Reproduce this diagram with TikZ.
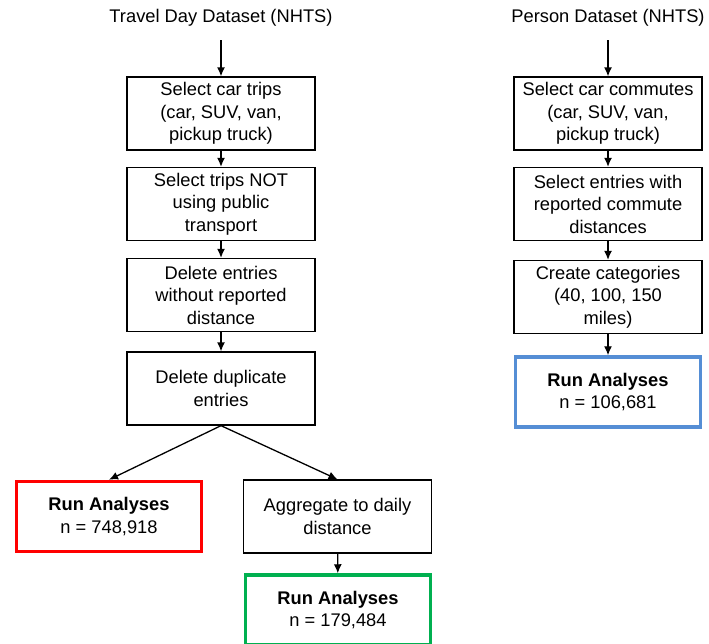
\documentclass[tikz,border=0pt]{standalone}
\usepackage{fontspec}
\setmainfont{Liberation Sans}
\usetikzlibrary{arrows.meta}
\tikzset{>={Latex[length=9pt,width=8pt]}}

\begin{document}
\begin{tikzpicture}[x=1pt,y=-1pt,
    txt/.style={font=\fontsize{18.3}{22.5}\selectfont},
    stepbox/.style={txt,draw,line width=1.3pt,minimum width=188pt,minimum height=73pt,align=center,inner sep=2pt},
    resbox/.style={stepbox,line width=3.5pt,minimum width=185pt,minimum height=70pt}]
    \useasboundingbox (0,0) rectangle (709,643);
    \clip (0,0) rectangle (709,643);

    % Travel day column
    \node[txt] (tday) at (221,18) {Travel Day Dataset (NHTS)};
    \node[stepbox] (cars) at (221,113.5) {Select car trips\\(car, SUV, van,\\pickup truck)};
    \node[stepbox] (npub) at (221,204) {Select trips NOT\\using public\\transport};
    \node[stepbox] (ndist) at (221,295) {Delete entries\\without reported\\distance};
    \node[stepbox] (dupl) at (221,388.5) {Delete duplicate\\entries};
    \node[resbox,draw=red] (resA) at (109,516.5) {\textbf{Run Analyses}\\n = 748,918};
    \node[stepbox] (aggr) at (337.5,516.5) {Aggregate to daily\\distance};
    \node[resbox,draw={rgb,255:red,0;green,176;blue,80}] (resB) at (338,610) {\textbf{Run Analyses}\\n = 179,484};

    % Person column
    \node[txt] (pers) at (608,18) {Person Dataset (NHTS)};
    \node[stepbox] (comm) at (608,113.5) {Select car commutes\\(car, SUV, van,\\pickup truck)};
    \node[stepbox] (rdist) at (608,204) {Select entries with\\reported commute\\distances};
    \node[stepbox] (cats) at (608,297) {Create categories\\(40, 100, 150\\miles)};
    \node[resbox,draw={rgb,255:red,85;green,142;blue,213}] (resC) at (608,392) {\textbf{Run Analyses}\\n = 106,681};

    % Arrows
    \draw[->,line width=1.3pt] (tday.south) ++(0,10) -- (cars.north);
    \draw[->,line width=1.3pt] (cars) -- (npub);
    \draw[->,line width=1.3pt] (npub) -- (ndist);
    \draw[->,line width=1.3pt] (ndist) -- (dupl);
    \draw[->,line width=1.3pt] (dupl.south) -- (resA.north);
    \draw[->,line width=1.3pt] (dupl.south) -- (aggr.north);
    \draw[->,line width=1.3pt] (aggr) -- (resB);
    \draw[->,line width=1.3pt] (pers.south) ++(0,10) -- (comm.north);
    \draw[->,line width=1.3pt] (comm) -- (rdist);
    \draw[->,line width=1.3pt] (rdist) -- (cats);
    \draw[->,line width=1.3pt] (cats) -- (resC);
\end{tikzpicture}
\end{document}
